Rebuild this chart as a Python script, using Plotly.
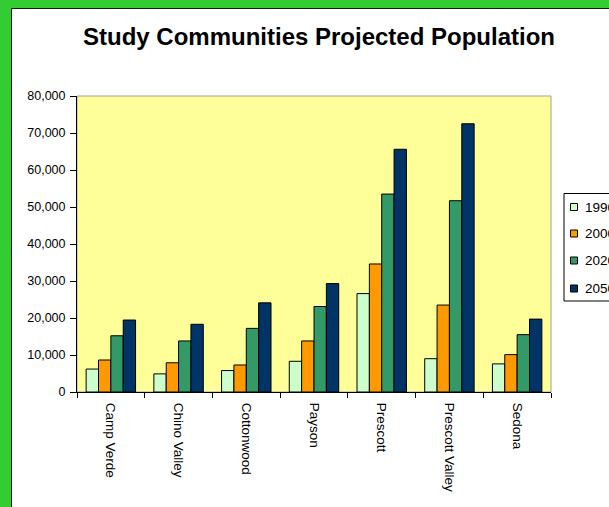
import plotly.graph_objects as go

categories = ["Camp Verde", "Chino Valley", "Cottonwood", "Payson",
              "Prescott", "Prescott Valley", "Sedona"]
series_names = ["1990", "2000", "2020", "2050"]
pop_1990 = [6200, 4900, 5800, 8300, 26600, 9000, 7600]
pop_2000 = [8650, 7900, 7300, 13800, 34600, 23500, 10100]
pop_2020 = [15200, 13800, 17200, 23100, 53500, 51700, 15500]
pop_2050 = [19450, 18300, 24100, 29300, 65600, 72500, 19700]
y_ticks = [0, 10000, 20000, 30000, 40000, 50000, 60000, 70000, 80000]
colors = ["#CCFFCC", "#FF9900", "#339966", "#003366"]

W, H = 609, 507
L, R, T, B = 77, 551, 96, 392
PW, PH = R - L, B - T
FONT = "Liberation Sans, Arial, sans-serif"


def px(x):
    return (x - L) / PW


def py(y):
    return (B - y) / PH


fig = go.Figure()
for name, vals, col in zip(series_names, [pop_1990, pop_2000, pop_2020, pop_2050], colors):
    fig.add_trace(go.Bar(
        name=name, x=categories, y=vals,
        marker=dict(color=col, line=dict(color="black", width=1)),
        showlegend=False,
    ))

shapes = [
    # plot area border
    dict(type="rect", xref="paper", yref="paper", x0=0, x1=1, y0=0, y1=1,
         line=dict(color="#A0A0A0", width=1), layer="below"),
    # green frame (left and top)
    dict(type="rect", xref="paper", yref="paper", x0=px(-5), x1=px(11), y0=py(-5), y1=py(H + 20),
         fillcolor="#33CC33", line=dict(width=0), layer="above"),
    dict(type="rect", xref="paper", yref="paper", x0=px(-5), x1=px(W + 20), y0=py(-5), y1=py(8),
         fillcolor="#33CC33", line=dict(width=0), layer="above"),
    dict(type="line", xref="paper", yref="paper", x0=px(11.5), x1=px(11.5), y0=py(8), y1=py(H + 20),
         line=dict(color="#1a1a1a", width=1), layer="above"),
    dict(type="line", xref="paper", yref="paper", x0=px(11), x1=px(W + 20), y0=py(8.5), y1=py(8.5),
         line=dict(color="#1a1a1a", width=1), layer="above"),
    # legend box
    dict(type="rect", xref="paper", yref="paper", x0=px(564), x1=px(W + 40), y0=py(301), y1=py(193.5),
         fillcolor="white", line=dict(color="black", width=1), layer="above"),
]
annotations = []
leg_y = [207, 233.5, 260.5, 288.5]
for name, col, yy in zip(series_names, colors, leg_y):
    shapes.append(dict(type="rect", xref="paper", yref="paper",
                       x0=px(570.5), x1=px(577.5), y0=py(yy + 3.5), y1=py(yy - 3.5),
                       fillcolor=col, line=dict(color="black", width=1), layer="above"))
    annotations.append(dict(xref="paper", yref="paper", x=px(583), y=py(yy),
                            xanchor="left", yanchor="middle", showarrow=False,
                            text=name, font=dict(family=FONT, size=13.5, color="black")))

fig.update_layout(
    width=W, height=H,
    margin=dict(l=L, r=W - R, t=T, b=H - B, pad=0),
    paper_bgcolor="white", plot_bgcolor="#FFFF99",
    barmode="group", bargap=0.27, bargroupgap=0,
    title=dict(text="Study Communities Projected Population",
               font=dict(family=FONT, size=24, color="black", weight="bold"),
               x=319 / W, xref="container", xanchor="center",
               y=1 - 37 / H, yref="container", yanchor="middle"),
    font=dict(family=FONT, size=12, color="black"),
    shapes=shapes, annotations=annotations,
    showlegend=False,
)
fig.update_xaxes(
    type="category", showline=True, linecolor="black", linewidth=1,
    ticks="outside", tickson="boundaries", ticklen=5, tickcolor="black",
    tickangle=90, ticklabelstandoff=7,
    tickfont=dict(family=FONT, size=13.5, color="black"),
    showgrid=False,
)
fig.update_yaxes(
    range=[0, 80000], tickvals=y_ticks, tickformat=",",
    showline=True, linecolor="black", linewidth=1,
    ticks="outside", ticklen=6, tickcolor="black", ticklabelstandoff=2,
    tickfont=dict(family=FONT, size=12.5, color="black"),
    showgrid=False, zeroline=False,
)

fig.write_html("out.html", config={"displayModeBar": False},
               post_script="document.body.style.margin='0';document.body.style.overflow='hidden';")
